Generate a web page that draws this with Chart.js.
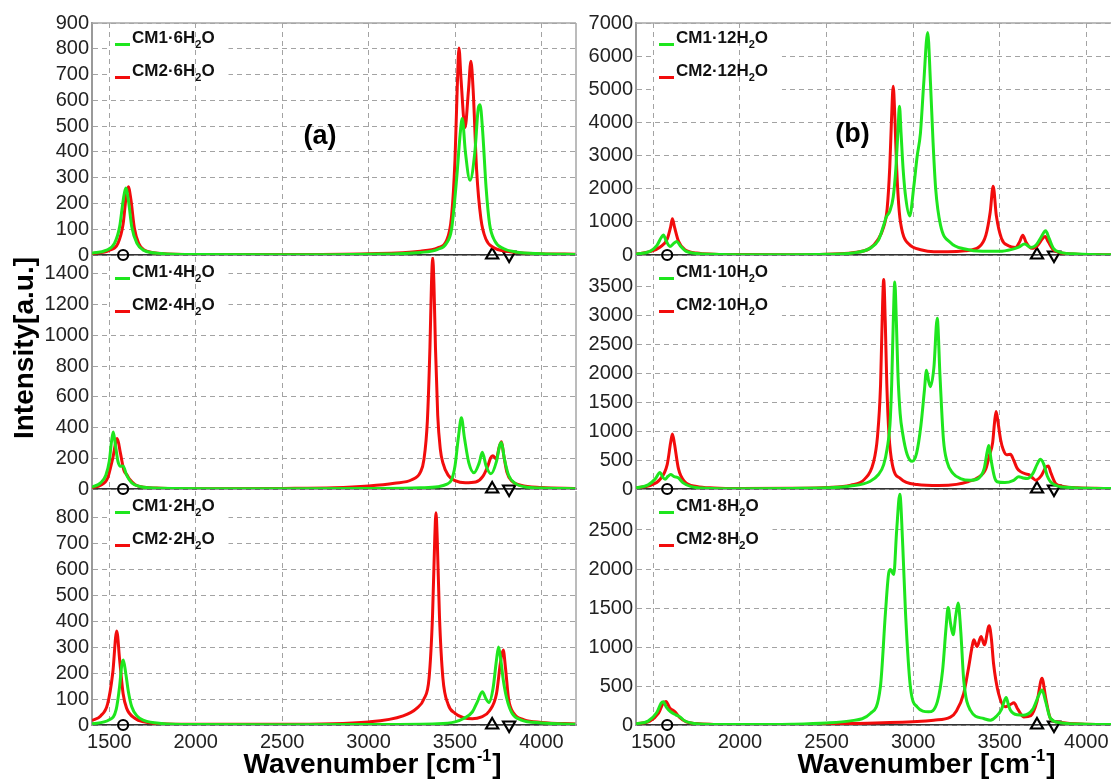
<!DOCTYPE html>
<html>
<head>
<meta charset="utf-8">
<script src="https://cdn.jsdelivr.net/npm/chart.js@4.4.0/dist/chart.umd.min.js"></script>
<style>
  html, body { margin: 0; padding: 0; background: #fff; overflow: hidden; }
  #wrap { position: relative; width: 1111px; height: 781px; overflow: hidden; background: #fff; }
  #wrap canvas { position: absolute; }
</style>
</head>
<body>
<div id="wrap"></div>
<script>
// ---- data (wavenumber, intensity) ----
const xTicks = [1500, 2000, 2500, 3000, 3500, 4000];
const yTicksTL = [0, 100, 200, 300, 400, 500, 600, 700, 800, 900];
const yTicksML = [0, 200, 400, 600, 800, 1000, 1200, 1400];
const yTicksBL = [0, 100, 200, 300, 400, 500, 600, 700, 800];
const yTicksTR = [0, 1000, 2000, 3000, 4000, 5000, 6000, 7000];
const yTicksMR = [0, 500, 1000, 1500, 2000, 2500, 3000, 3500];
const yTicksBR = [0, 500, 1000, 1500, 2000, 2500];

const seriesNames = ['CM1', 'CM2'];
const markerCircle = [1580];
const markerUp = [3715];
const markerDown = [3813];

const cm1_6h2o = [[1400,7],[1480,18],[1530,45],[1560,110],[1580,210],[1595,260],[1610,215],[1630,110],[1660,45],[1700,18],[1800,6],[2000,2],[2500,1],[3000,3],[3300,10],[3400,22],[3450,45],[3480,100],[3510,300],[3530,470],[3542,530],[3560,400],[3587,290],[3615,400],[3635,570],[3645,583],[3660,480],[3680,260],[3700,120],[3730,55],[3780,25],[3850,12],[4000,5],[4200,2]];
const cm2_6h2o = [[1400,5],[1500,18],[1550,45],[1580,120],[1598,230],[1610,265],[1625,215],[1645,105],[1670,45],[1700,20],[1800,6],[2000,2],[2500,2],[3000,5],[3300,15],[3400,28],[3450,55],[3480,150],[3500,370],[3513,650],[3523,803],[3535,680],[3558,495],[3578,640],[3592,752],[3605,640],[3625,330],[3650,140],[3680,60],[3720,30],[3800,14],[4000,5],[4200,3]];

const cm1_4h2o = [[1400,12],[1450,40],[1480,90],[1500,180],[1513,310],[1523,371],[1535,290],[1550,180],[1565,148],[1580,150],[1600,90],[1630,40],[1680,15],[1800,5],[2500,1],[3000,3],[3300,8],[3400,15],[3450,30],[3480,60],[3500,150],[3520,340],[3537,463],[3555,330],[3580,170],[3610,106],[3640,170],[3658,239],[3680,150],[3708,99],[3740,180],[3760,290],[3769,303],[3785,200],[3810,90],[3850,35],[3900,15],[4000,6],[4200,2]];
const cm2_4h2o = [[1400,10],[1450,25],[1490,70],[1520,200],[1546,328],[1565,230],[1585,120],[1600,95],[1620,60],[1650,28],[1700,12],[1800,5],[2000,2],[2500,4],[2800,8],[3000,20],[3150,38],[3250,60],[3300,110],[3320,190],[3340,440],[3355,920],[3364,1340],[3371,1505],[3378,1340],[3387,920],[3400,480],[3415,260],[3430,170],[3460,90],[3500,55],[3560,40],[3620,45],[3660,80],[3690,150],[3705,200],[3719,217],[3739,196],[3755,270],[3769,307],[3782,220],[3800,110],[3830,50],[3880,25],[4000,10],[4200,4]];

const cm1_2h2o = [[1400,5],[1500,20],[1540,60],[1560,150],[1572,230],[1581,250],[1595,200],[1610,130],[1630,70],[1660,35],[1700,18],[1800,6],[2000,2],[2500,1],[3000,2],[3400,5],[3500,12],[3550,25],[3600,50],[3630,90],[3658,128],[3680,100],[3697,86],[3720,140],[3740,250],[3752,300],[3765,250],[3780,170],[3800,100],[3830,45],[3880,20],[4000,8],[4200,3]];
const cm2_2h2o = [[1400,17],[1450,35],[1490,80],[1520,200],[1543,362],[1560,250],[1580,120],[1600,65],[1650,25],[1700,12],[1800,5],[2000,3],[2500,3],[3000,12],[3200,35],[3280,65],[3320,100],[3350,180],[3370,420],[3383,720],[3390,816],[3397,720],[3410,420],[3430,180],[3460,80],[3500,45],[3550,28],[3600,24],[3650,30],[3700,55],[3740,120],[3765,250],[3779,288],[3792,220],[3810,100],[3840,45],[3900,20],[4000,10],[4200,4]];

const cm1_12h2o = [[1400,25],[1480,110],[1520,280],[1545,520],[1558,600],[1575,420],[1596,260],[1618,350],[1635,410],[1655,280],[1690,110],[1750,45],[1850,20],[2000,10],[2300,10],[2500,20],[2650,60],[2750,200],[2800,450],[2830,900],[2845,1150],[2865,1320],[2885,1750],[2900,2600],[2912,3700],[2921,4490],[2930,3700],[2942,2600],[2958,1700],[2980,1177],[3004,2075],[3023,2973],[3042,3673],[3061,5170],[3084,6716],[3100,5200],[3115,3400],[3130,2000],[3158,900],[3215,380],[3300,180],[3400,110],[3500,110],[3570,170],[3610,240],[3643,330],[3680,230],[3710,300],[3740,550],[3765,728],[3785,500],[3810,200],[3850,80],[3950,30],[4100,10],[4200,8]];
const cm2_12h2o = [[1400,30],[1480,100],[1540,240],[1580,480],[1600,850],[1610,1090],[1622,850],[1645,420],[1680,170],[1750,60],[1850,25],[2000,12],[2300,10],[2500,25],[2650,70],[2750,200],[2795,450],[2830,850],[2850,1400],[2865,2650],[2875,4070],[2885,5090],[2895,4070],[2905,2600],[2920,1300],[2940,650],[2975,330],[3050,150],[3120,100],[3200,100],[3300,130],[3380,240],[3420,600],[3445,1300],[3462,2075],[3480,1200],[3510,500],[3550,280],[3591,230],[3615,400],[3633,599],[3652,380],[3685,200],[3720,300],[3745,480],[3762,560],[3780,400],[3810,150],[3850,70],[3950,25],[4100,10],[4200,8]];

const cm1_10h2o = [[1400,20],[1470,70],[1510,170],[1539,284],[1555,200],[1568,169],[1585,220],[1600,249],[1620,215],[1644,193],[1670,110],[1720,40],[1800,15],[2000,6],[2300,10],[2500,20],[2638,50],[2750,130],[2800,250],[2830,420],[2850,700],[2866,1100],[2876,1800],[2885,2850],[2894,3569],[2903,2900],[2912,2000],[2925,1300],[2940,950],[2965,600],[2994,477],[3020,620],[3045,1100],[3065,1700],[3077,2049],[3090,1850],[3100,1765],[3120,2100],[3139,2943],[3155,1950],[3175,850],[3196,466],[3230,270],[3273,181],[3330,150],[3380,190],[3410,350],[3428,650],[3437,750],[3450,500],[3470,200],[3485,125],[3530,110],[3580,150],[3610,210],[3635,190],[3658,181],[3690,260],[3715,420],[3735,511],[3755,420],[3775,220],[3793,125],[3830,55],[3900,25],[4050,10],[4200,6]];
const cm2_10h2o = [[1400,20],[1480,60],[1540,170],[1580,420],[1600,800],[1610,950],[1622,780],[1645,350],[1680,130],[1750,45],[1850,18],[2000,8],[2300,12],[2500,25],[2640,67],[2720,170],[2770,450],[2794,900],[2812,1805],[2821,2890],[2830,3610],[2839,2890],[2848,1805],[2860,960],[2880,420],[2927,180],[3023,78],[3150,60],[3250,80],[3320,130],[3370,190],[3420,350],[3440,580],[3459,800],[3470,1150],[3479,1337],[3490,1150],[3505,850],[3520,680],[3540,590],[3562,597],[3580,500],[3600,360],[3620,300],[3650,260],[3668,249],[3690,190],[3707,153],[3740,230],[3765,370],[3780,398],[3795,280],[3822,96],[3860,50],[3950,20],[4100,10],[4200,6]];

const cm1_8h2o = [[1400,15],[1470,50],[1520,160],[1545,280],[1558,298],[1575,230],[1600,170],[1630,130],[1654,104],[1680,55],[1720,25],[1800,10],[2000,5],[2300,10],[2500,25],[2638,53],[2753,148],[2811,491],[2840,1436],[2859,1950],[2869,1993],[2888,1929],[2905,2500],[2923,2959],[2940,2300],[2956,1436],[2984,491],[3023,233],[3089,169],[3140,300],[3170,700],[3190,1250],[3202,1508],[3216,1300],[3231,1156],[3246,1400],[3260,1564],[3275,1200],[3292,577],[3330,191],[3407,83],[3446,62],[3480,110],[3510,200],[3525,300],[3537,354],[3550,260],[3561,191],[3600,130],[3638,126],[3690,200],[3725,380],[3744,448],[3765,300],[3793,83],[3850,30],[4000,10],[4200,5]];
const cm2_8h2o = [[1400,15],[1480,50],[1530,150],[1555,270],[1573,300],[1595,220],[1625,169],[1650,100],[1690,40],[1750,18],[1850,8],[2000,5],[2400,8],[2638,19],[3023,45],[3119,62],[3215,100],[3250,180],[3292,405],[3321,748],[3340,1000],[3350,1092],[3369,1006],[3392,1135],[3411,1028],[3439,1272],[3452,1100],[3464,792],[3493,405],[3531,233],[3560,260],[3582,285],[3605,200],[3638,104],[3680,120],[3715,300],[3744,599],[3765,350],[3793,83],[3840,35],[4000,10],[4200,5]];

// ---- layout ----
const GREEN = 'rgb(30,230,30)';
const RED = 'rgb(242,12,12)';
const FONT = '"Liberation Sans", Arial, Helvetica, sans-serif';
const GRID = '#a3a3a3';
const PAD_T = 14;

const COLS = [
  { canvasLeft: 0, axisW: 92, plotW: 484, padR: 14, titleCx: 279.5 },
  { canvasLeft: 588, axisW: 48, plotW: 485, padR: 10, titleCx: 289.5 }
];
const ROWS = [
  { plotTop: 22, plotH: 234, xh: 14 },
  { plotTop: 256, plotH: 234, xh: 14 },
  { plotTop: 490, plotH: 235, xh: 56 }
];

const panels = [
  { col: 0, row: 0, n: '6', s1: cm1_6h2o, s2: cm2_6h2o, max: 900, yTicks: yTicksTL, tag: '(a)', tagAt: [228, 114] },
  { col: 0, row: 1, n: '4', s1: cm1_4h2o, s2: cm2_4h2o, max: 1510, yTicks: yTicksML, yTitle: true },
  { col: 0, row: 2, n: '2', s1: cm1_2h2o, s2: cm2_2h2o, max: 900, yTicks: yTicksBL },
  { col: 1, row: 0, n: '12', s1: cm1_12h2o, s2: cm2_12h2o, max: 7000, yTicks: yTicksTR, tag: '(b)', tagAt: [216.5, 112] },
  { col: 1, row: 1, n: '10', s1: cm1_10h2o, s2: cm2_10h2o, max: 4000, yTicks: yTicksMR },
  { col: 1, row: 2, n: '8', s1: cm1_8h2o, s2: cm2_8h2o, max: 3000, yTicks: yTicksBR }
];

// legend, frame, panel tag and x title
const deco = {
  id: 'deco',
  beforeDatasetsDraw(chart, args, o) {
    const a = chart.chartArea, ctx = chart.ctx;
    ctx.save();
    ctx.font = 'bold 17px ' + FONT;
    const w = ctx.measureText('CM1\u00b7' + o.n + 'HO').width + 8;
    const bx = a.left + 18, by = a.top + 6, bw = w + 34, bh = 64;
    ctx.fillStyle = '#fff';
    ctx.fillRect(bx, by, bw, bh);
    ctx.beginPath();
    ctx.rect(bx, by, bw, bh);
    ctx.clip();
    chart.scales.x.drawGrid(a);
    ctx.restore();
  },
  afterDraw(chart, args, o) {
    const a = chart.chartArea, ctx = chart.ctx;
    ctx.save();
    ctx.strokeStyle = '#a6a6a6';
    ctx.lineWidth = 1.5;
    ctx.beginPath();
    if (o.row === 0) { ctx.moveTo(a.left, a.top); ctx.lineTo(a.right, a.top); }
    ctx.moveTo(a.right, a.top); ctx.lineTo(a.right, a.bottom);
    ctx.stroke();

    const colors = [GREEN, RED];
    const dy = [20, 53];
    ctx.textAlign = 'left';
    ctx.textBaseline = 'alphabetic';
    for (let i = 0; i < 2; i++) {
      const y = a.top + dy[i];
      ctx.strokeStyle = colors[i];
      ctx.lineWidth = 3;
      ctx.beginPath();
      ctx.moveTo(a.left + 23, y + 1.5);
      ctx.lineTo(a.left + 38, y + 1.5);
      ctx.stroke();
      ctx.fillStyle = '#111';
      let x = a.left + 40;
      const t1 = seriesNames[i] + '\u00b7' + o.n + 'H';
      ctx.font = 'bold 17px ' + FONT;
      ctx.fillText(t1, x, y);
      x += ctx.measureText(t1).width;
      ctx.font = 'bold 11px ' + FONT;
      ctx.fillText('2', x, y + 5);
      x += ctx.measureText('2').width;
      ctx.font = 'bold 17px ' + FONT;
      ctx.fillText('O', x, y);
    }

    if (o.tag) {
      ctx.fillStyle = '#000';
      ctx.font = 'bold 27px ' + FONT;
      ctx.textAlign = 'center';
      ctx.textBaseline = 'middle';
      ctx.fillText(o.tag, a.left + o.tagAt[0], a.top + o.tagAt[1]);
    }

    if (o.row === 2) {
      const big = 'bold 28px ' + FONT, small = 'bold 16px ' + FONT;
      const p1 = 'Wavenumber [cm', p2 = '-1', p3 = ']';
      ctx.font = big; const w1 = ctx.measureText(p1).width, w3 = ctx.measureText(p3).width;
      ctx.font = small; const w2 = ctx.measureText(p2).width;
      let x = a.left + o.titleCx - (w1 + w2 + w3) / 2;
      const y = a.bottom + 48;
      ctx.fillStyle = '#000';
      ctx.textAlign = 'left';
      ctx.textBaseline = 'alphabetic';
      ctx.font = big; ctx.fillText(p1, x, y); x += w1;
      ctx.font = small; ctx.fillText(p2, x + 1, y - 12); x += w2 + 2;
      ctx.font = big; ctx.fillText(p3, x, y);
    }
    ctx.restore();
  }
};

const wrap = document.getElementById('wrap');

panels.forEach(p => {
  const c = COLS[p.col], r = ROWS[p.row];
  const cv = document.createElement('canvas');
  const W = c.axisW + c.plotW + c.padR;
  const H = PAD_T + r.plotH + r.xh;
  cv.width = W; cv.height = H;
  cv.style.left = c.canvasLeft + 'px';
  cv.style.top = (r.plotTop - PAD_T) + 'px';
  cv.style.width = W + 'px'; cv.style.height = H + 'px';
  wrap.appendChild(cv);

  const curve = (s, color) => ({
    data: s.map(q => ({ x: q[0], y: q[1] })),
    borderColor: color,
    borderWidth: 3,
    pointRadius: 0,
    fill: false,
    cubicInterpolationMode: 'monotone'
  });
  const marker = (xs, style, rot, radius) => ({
    data: xs.map(x => ({ x: x, y: 0 })),
    showLine: false,
    pointStyle: style,
    pointRotation: rot,
    pointRadius: radius,
    pointBorderColor: '#000',
    pointBackgroundColor: 'rgba(0,0,0,0)',
    pointBorderWidth: 2.2,
    clip: false
  });

  new Chart(cv, {
    type: 'line',
    data: {
      datasets: [
        curve(p.s1, GREEN),
        curve(p.s2, RED),
        marker(markerCircle, 'circle', 0, 5),
        marker(markerUp, 'triangle', 0, 7),
        marker(markerDown, 'triangle', 180, 7)
      ]
    },
    options: {
      responsive: false,
      animation: false,
      devicePixelRatio: 1,
      events: [],
      layout: { padding: { top: PAD_T, right: c.padR, left: 0, bottom: 0 } },
      plugins: {
        legend: { display: false },
        tooltip: { enabled: false },
        deco: { row: p.row, n: p.n, tag: p.tag, tagAt: p.tagAt, titleCx: c.titleCx }
      },
      scales: {
        x: {
          type: 'linear',
          min: 1400,
          max: 4200,
          afterBuildTicks: ax => { ax.ticks = xTicks.map(v => ({ value: v })); },
          afterFit: s => { s.height = r.xh; },
          grid: { color: GRID, lineWidth: 1, drawTicks: false },
          border: { color: '#333', width: 1.5, dash: [5, 4] },
          ticks: {
            display: p.row === 2,
            autoSkip: false,
            color: '#222',
            font: { family: FONT, size: 20 },
            padding: 5,
            maxRotation: 0,
            callback: v => String(v)
          }
        },
        y: {
          type: 'linear',
          min: 0,
          max: p.max,
          afterBuildTicks: ax => { ax.ticks = p.yTicks.map(v => ({ value: v })); },
          afterFit: s => { s.width = c.axisW; },
          grid: { color: GRID, lineWidth: 1, drawTicks: false },
          border: { color: '#9a9a9a', width: 2, dash: [5, 4] },
          ticks: {
            autoSkip: false,
            color: '#222',
            font: { family: FONT, size: 20 },
            padding: 3,
            callback: v => String(v)
          },
          title: {
            display: !!p.yTitle,
            text: 'Intensity[a.u.]',
            align: 'end',
            color: '#000',
            font: { family: FONT, size: 28, weight: 'bold' },
            padding: { top: 8, bottom: 0 }
          }
        }
      }
    },
    plugins: [deco]
  });
});
</script>
</body>
</html>
